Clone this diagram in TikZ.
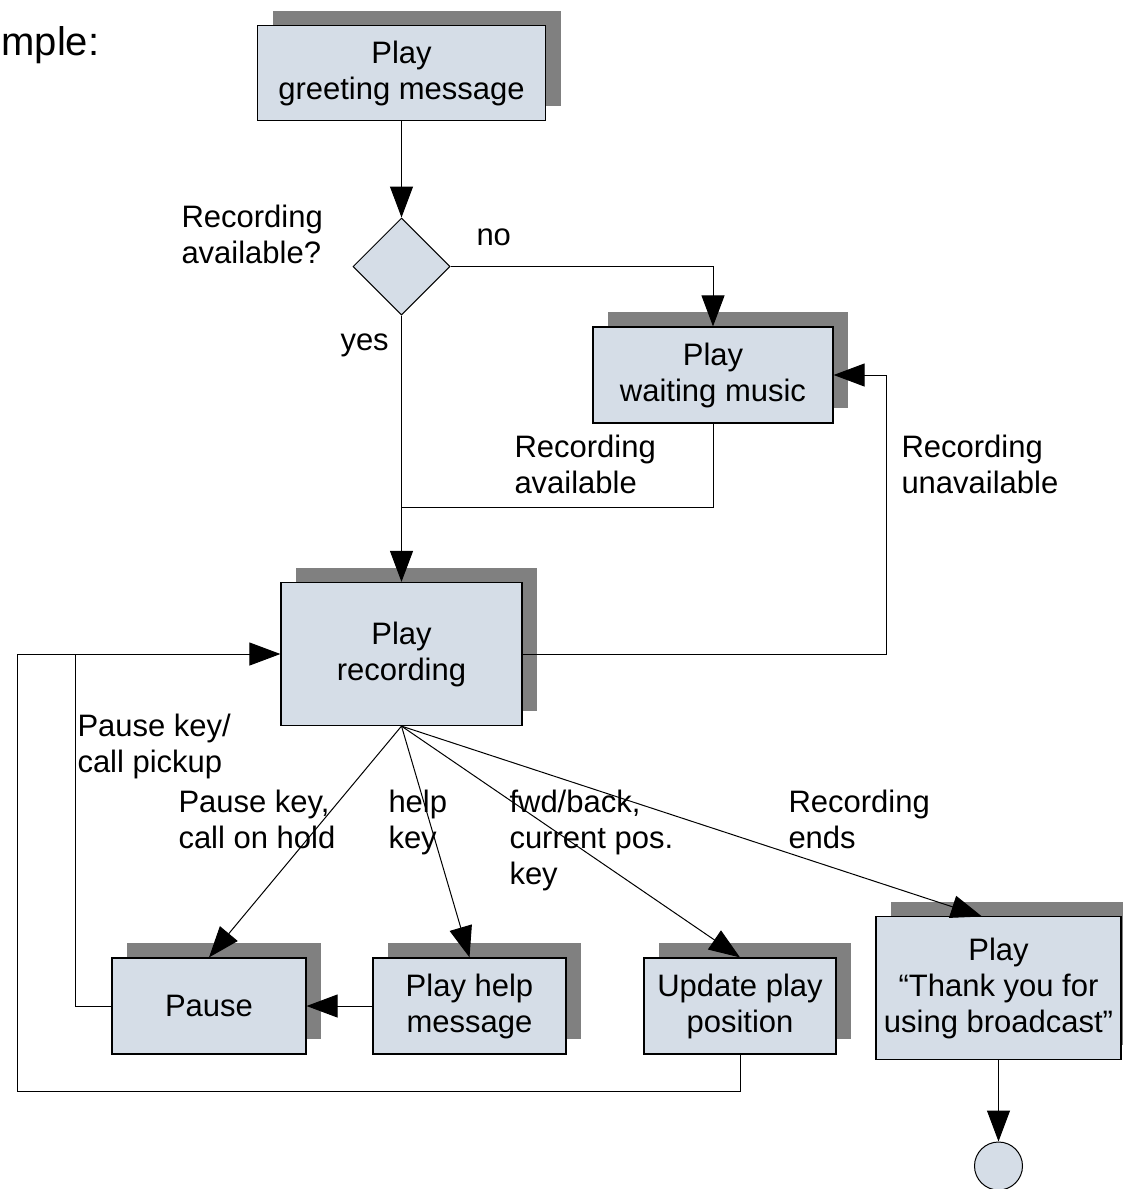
\documentclass[tikz,border=0pt]{standalone}
\usepackage{fontspec}
\setmainfont{Liberation Sans}
\usetikzlibrary{arrows.meta,shapes.geometric,shadows}

\definecolor{boxfill}{RGB}{213,221,231}
\definecolor{shadowgray}{RGB}{128,128,128}

\tikzset{
  txt/.style={font=\fontsize{31}{36}\selectfont},
  lbl/.style={txt, anchor=base west, align=left, inner sep=0pt},
  actbox/.style={txt, draw, line width=1.2pt, fill=boxfill, inner sep=0pt, align=center,
    general shadow={fill=shadowgray, shadow xshift=15pt, shadow yshift=15pt}},
  decbox/.style={diamond, draw, line width=1pt, fill=boxfill, inner sep=0pt,
    minimum width=97pt, minimum height=97pt},
  endnode/.style={circle, draw, line width=1pt, fill=boxfill, inner sep=0pt, minimum size=48pt},
  flow/.style={-{Triangle[length=31pt,width=23pt]}}
}

\begin{document}
\begin{tikzpicture}[x=1pt,y=-1pt,line width=1pt]
\useasboundingbox (0,0) rectangle (1123,1189);

\node[lbl, font=\fontsize{40}{46}\selectfont] (title) at (1,55) {mple:};

% activities
\node[actbox, minimum width=288pt, minimum height=95pt] (greet) at (401.5,73) {Play\\greeting message};
\node[decbox] (dec) at (401.5,266.5) {};
\node[actbox, minimum width=240pt, minimum height=96pt] (wait) at (713,375) {Play\\waiting music};
\node[actbox, minimum width=241pt, minimum height=143pt] (rec) at (401.5,654) {Play\\recording};
\node[actbox, minimum width=194pt, minimum height=96pt] (pause) at (209,1006) {Pause};
\node[actbox, minimum width=193pt, minimum height=96pt] (help) at (469.5,1006) {Play help\\message};
\node[actbox, minimum width=192pt, minimum height=96pt] (upd) at (740,1006) {Update play\\position};
\node[actbox, minimum width=245pt, minimum height=143pt] (thank) at (998.5,988) {Play\\“Thank you for\\using broadcast”};
\node[endnode] (stop) at (998.5,1166) {};

% bends
\coordinate (j1) at (401.5,507);
\coordinate (r1) at (886,654);
\coordinate (l1) at (17,1091);
\coordinate (l2) at (75,654);
\coordinate (t1) at (982,916.5);

% connectors
\draw[flow] (greet.south) -- (dec.north);
\draw[flow] (dec.east) -| (wait.north);
\draw[flow] (dec.south) -- (rec.north);
\draw (wait.south) |- (j1);
\draw[flow] (rec.east) -- (r1) |- (wait.east);
\draw[flow] (upd.south) |- (l1) |- (rec.west);
\draw (pause.west) -| (l2);
\draw[flow] (help.west) -- (pause.east);
\draw[flow] (rec.south) -- (pause.north);
\draw[flow] (rec.south) -- (help.north);
\draw[flow] (rec.south) -- (upd.north);
\draw[flow] (rec.south) -- (t1);
\draw[flow] (thank.south) -- (stop.north);

% labels (base = last line)
\node[lbl] (qlbl) at (181,263) {Recording\\available?};
\node[lbl] (nolbl) at (476,245) {no};
\node[lbl] (yeslbl) at (340,350) {yes};
\node[lbl] (avlbl) at (514,493) {Recording\\available};
\node[lbl] (unavlbl) at (901,493) {Recording\\unavailable};
\node[lbl] (pklbl) at (77,772) {Pause key/\\call pickup};
\node[lbl] (holdlbl) at (178,848) {Pause key,\\call on hold};
\node[lbl] (helplbl) at (388,848) {help\\key};
\node[lbl] (fwdlbl) at (509,884) {fwd/back,\\current pos.\\key};
\node[lbl] (endlbl) at (788,848) {Recording\\ends};
\end{tikzpicture}
\end{document}
